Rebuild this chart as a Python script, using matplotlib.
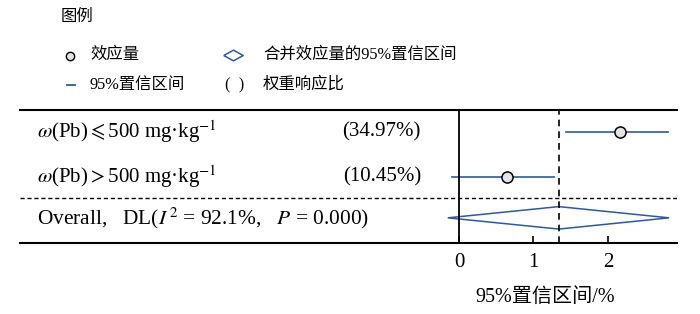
import matplotlib
matplotlib.use("Agg")
import matplotlib.pyplot as plt
from matplotlib.patches import Polygon
import numpy as np

plt.rcParams['font.family'] = ['Liberation Serif', 'Noto Sans CJK SC']
plt.rcParams['mathtext.fontset'] = 'stix'

# data
groups = [r'$\omega$(Pb)$\leqslant$500 mg·kg$^{-1}$', r'$\omega$(Pb)$>$500 mg·kg$^{-1}$']
weights = ['(34.97%)', '(10.45%)']
effect = [2.16, 0.64]
ci_low = [1.44, -0.09]
ci_high = [2.81, 1.27]
overall_label = r'Overall,   DL($I^{\,2}$ = 92.1%,   $P$ = 0.000)'
overall_effect = 1.34
overall_low = -0.15
overall_high = 2.82
xticks = [0, 1, 2]

blue = '#2f589e'

fig = plt.figure(figsize=(7, 3.14), dpi=100)
ax = fig.add_axes([20 / 700, 1 - 243 / 314, 657 / 700, 133 / 314])

rows = [0, 1]
y_over = 1.91
y_split = 1.47
ax.set_xlim(-5.89, 2.926)
ax.set_ylim(2.47, -0.49)

for y, e, lo, hi in zip(rows, effect, ci_low, ci_high):
    ax.plot([lo, hi], [y, y], color=blue, lw=1.2, zorder=2)
    ax.plot(e, y, 'o', ms=8, mfc='#e4e4e4', mec='black', mew=1.1, zorder=3)

dh = 0.25
diamond = Polygon([[overall_low, y_over], [overall_effect, y_over - dh],
                   [overall_high, y_over], [overall_effect, y_over + dh]],
                  closed=True, fill=False, edgecolor=blue, lw=1.1, zorder=2)
ax.add_patch(diamond)

ax.axvline(0, color='black', lw=1.3)
ax.axvline(overall_effect, color='black', lw=1.2, ls=(0, (4, 3)))
ax.axhline(y_split, color='black', lw=1.0, ls=(0, (3, 2)))

for y, g, w in zip(rows, groups, weights):
    ax.text(-5.66, y, g, fontsize=15, va='center', ha='left')
    ax.text(-0.51, y, w, fontsize=15, va='center', ha='right')
ax.text(-5.66, y_over, overall_label, fontsize=15.4, va='center', ha='left')

for s in ['left', 'right']:
    ax.spines[s].set_visible(False)
ax.spines['top'].set_linewidth(1.5)
ax.spines['bottom'].set_linewidth(1.5)
ax.set_yticks([])
ax.set_xticks(xticks)
ax.set_xticklabels([str(t) for t in xticks])
ax.tick_params(axis='x', direction='in', length=5, width=1.2, labelsize=15, pad=7)
ax.set_xlabel('95%置信区间/%', fontsize=14.5, va='center')
ax.xaxis.set_label_coords(0.799, -0.406)

# legend drawn by hand at the top of the figure
def fx(px):
    return px / 700

def fy(py):
    return 1 - py / 314

fs_leg = 11.8
fig.text(fx(61), fy(17), '图例', fontsize=fs_leg, va='center', ha='left')
fig.lines.append(plt.Line2D([fx(70)], [fy(56)], marker='o', ms=6, mfc='#e4e4e4',
                            mec='black', mew=1.0, transform=fig.transFigure))
fig.text(fx(90), fy(55), '效应量', fontsize=fs_leg, va='center', ha='left')
dmark = [(-1, 0), (0, 0.55), (1, 0), (0, -0.55), (-1, 0)]
fig.lines.append(plt.Line2D([fx(233)], [fy(55)], marker=dmark, ms=14, mfc='none',
                            mec=blue, mew=1.1, transform=fig.transFigure))
fig.text(fx(263), fy(55), '合并效应量的95%置信区间', fontsize=fs_leg, va='center', ha='left')
fig.lines.append(plt.Line2D([fx(67), fx(75)], [fy(85), fy(85)], color=blue, lw=1.3,
                            transform=fig.transFigure))
fig.text(fx(90), fy(85), '95%置信区间', fontsize=fs_leg, va='center', ha='left')
fig.text(fx(235), fy(85), '(  )', fontsize=fs_leg, va='center', ha='center')
fig.text(fx(263), fy(85), '权重响应比', fontsize=fs_leg, va='center', ha='left')

fig.savefig('out.png', dpi=100)
